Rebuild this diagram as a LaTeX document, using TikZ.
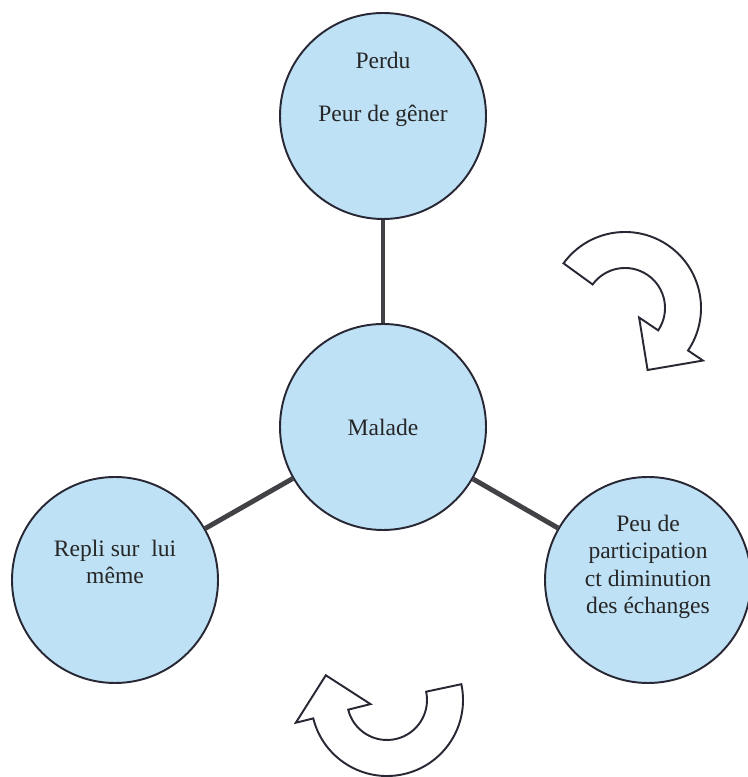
\documentclass[tikz,border=0pt]{standalone}
\usepackage{fontspec}
\setmainfont{Liberation Serif}
\definecolor{bubblefill}{RGB}{190,225,246}
\definecolor{linkgray}{RGB}{66,66,70}
\definecolor{edgedark}{RGB}{40,40,52}

\begin{document}
\begin{tikzpicture}[
  bubbletext/.style={font=\fontsize{13.4}{15.6}\selectfont,text=black!85},
  bubble/.style={circle,draw=edgedark,line width=1.1pt,fill=bubblefill,
    minimum size=4.12cm,inner sep=0pt,align=center,bubbletext},
  link/.style={linkgray,line width=2.8pt},
  turn/.style={draw=edgedark,fill=white,line width=1.1pt}]
\useasboundingbox (0,0) rectangle (14.94,15.54);
  \node[bubble] (malade) at (7.66,7.0) {Malade};
  \node[bubble,label={[yshift=1.12cm,bubbletext]center:Perdu}] (perdu) at (7.66,13.22) {Peur de gêner};
  \node[bubble,text depth=21pt] (repli) at (2.3,3.94) {Repli sur\ \ lui\\même};
  \node[bubble,text depth=18pt] (peu) at (12.96,3.94) {Peu de\\participation\\ct diminution\\des échanges};
  \draw[link] (perdu) -- (malade);
  \draw[link] (malade) -- (repli);
  \draw[link] (malade) -- (peu);
% curved arrows
\begin{scope}[shift={(12.5,9.38)}]
  \draw[turn] (144:1.52) arc[start angle=144,end angle=-34,radius=1.52] -- (-34:1.88) -- (-70:1.32)
    -- (-34:0.34) -- (-34:0.8) arc[start angle=-34,end angle=144,radius=0.8] -- cycle;
\end{scope}
\begin{scope}[shift={(7.74,1.54)},rotate=-132]
  \draw[turn] (144:1.52) arc[start angle=144,end angle=-34,radius=1.52] -- (-34:1.88) -- (-70:1.32)
    -- (-34:0.34) -- (-34:0.8) arc[start angle=-34,end angle=144,radius=0.8] -- cycle;
\end{scope}
\end{tikzpicture}
\end{document}
